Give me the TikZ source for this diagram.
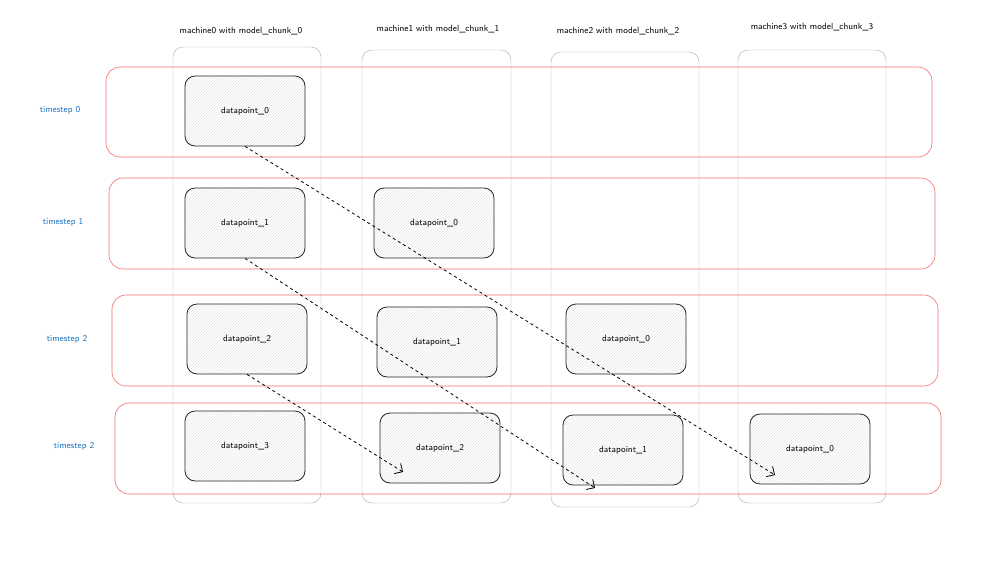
\documentclass[tikz,border=0pt]{standalone}
\usepackage{tikz}
\usetikzlibrary{patterns,arrows.meta}
\definecolor{rowred}{HTML}{F26B6B}
\definecolor{colgrey}{HTML}{A8A8C0}
\definecolor{labblue}{HTML}{1971C2}

\begin{document}
\begin{tikzpicture}[
  x=1pt,y=-1pt,
  every node/.style={font=\sffamily\small},
  machine/.style={draw=colgrey,rounded corners=10pt},
  timestep/.style={draw=rowred,semithick,rounded corners=14pt},
  dpoint/.style={draw=black!85,thick,rounded corners=10pt,minimum width=120pt,minimum height=70pt,pattern=north east lines,pattern color=black!10},
  steplabel/.style={text=labblue},
  flow/.style={dashed,thick,-{Straight Barb[length=6pt]}},
]
\useasboundingbox (0,0) rectangle (986,560);

% machines
\draw[machine] (173,47) rectangle (321,503);
\draw[machine] (362,50) rectangle (511,503);
\draw[machine] (551,52) rectangle (699,507);
\draw[machine] (738,50) rectangle (886,503);
\node (m0) at (241,31) {machine0 with model\_chunk\_0};
\node (m1) at (438,29) {machine1 with model\_chunk\_1};
\node (m2) at (618,31) {machine2 with model\_chunk\_2};
\node (m3) at (812,27) {machine3 with model\_chunk\_3};

% timesteps
\draw[timestep] (106,67) rectangle (932,157);
\draw[timestep] (109,178) rectangle (935,269);
\draw[timestep] (112,295) rectangle (938,386);
\draw[timestep] (115,403) rectangle (941,494);
\node[steplabel] (t0) at (60,110) {timestep 0};
\node[steplabel] (t1) at (63,222) {timestep 1};
\node[steplabel] (t2) at (67,339) {timestep 2};
\node[steplabel] (t3) at (74,446) {timestep 2};

% datapoints
\node[dpoint] (r0c0) at (245,111) {datapoint\_0};
\node[dpoint] (r1c0) at (245,223) {datapoint\_1};
\node[dpoint] (r1c1) at (434,223) {datapoint\_0};
\node[dpoint] (r2c0) at (247,339) {datapoint\_2};
\node[dpoint] (r2c1) at (437,342) {datapoint\_1};
\node[dpoint] (r2c2) at (626,339) {datapoint\_0};
\node[dpoint] (r3c0) at (245,446) {datapoint\_3};
\node[dpoint] (r3c1) at (440,448) {datapoint\_2};
\node[dpoint] (r3c2) at (623,450) {datapoint\_1};
\node[dpoint] (r3c3) at (810,449) {datapoint\_0};

\coordinate (e0) at (775,475);
\coordinate (e1) at (595,488);
\coordinate (e2) at (403,472);
\draw[flow] (r0c0.south) -- (e0);
\draw[flow] (r1c0.south) -- (e1);
\draw[flow] (r2c0.south) -- (e2);
\end{tikzpicture}
\end{document}
